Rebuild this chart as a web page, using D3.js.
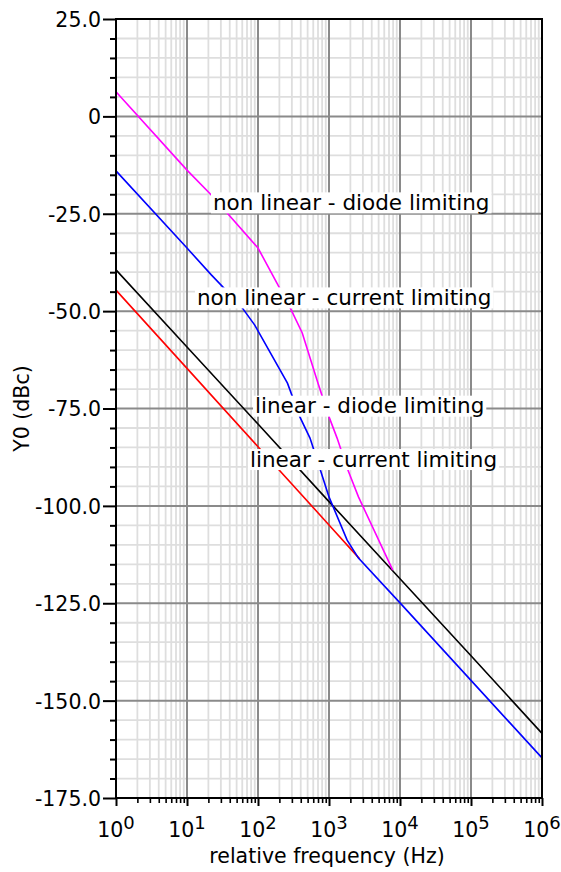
<!DOCTYPE html>
<html>
<head>
<meta charset="utf-8">
<script src="https://cdn.jsdelivr.net/npm/d3@7/dist/d3.min.js"></script>
<style>
  body { margin: 0; background: #fff; }
  text { font-family: "DejaVu Sans", sans-serif; fill: #000; }
</style>
</head>
<body>
<svg id="chart" width="561" height="872"></svg>
<script>
// y axis: major ticks and their labels
const yMajor = [25, 0, -25, -50, -75, -100, -125, -150, -175];
const yLabels = ["25.0", "0", "-25.0", "-50.0", "-75.0", "-100.0", "-125.0", "-150.0", "-175.0"];
// x axis: decade exponents
const xDecades = [0, 1, 2, 3, 4, 5, 6];

// series (frequency in Hz, level in dBc)
const nlDiodeF = [1, 10, 22, 100, 160, 280, 420, 700, 980, 1300, 1800, 2600, 7900];
const nlDiodeY = [6.3, -13.8, -20.2, -33.8, -40.7, -48.9, -55.6, -68.5, -76.7, -82.6, -90.3, -97.7, -116.5];

const nlCurrentF = [1, 10, 22, 56, 90, 260, 390, 540, 740, 1000, 1800, 2600, 10000, 1000000];
const nlCurrentY = [-14.0, -33.8, -40.7, -48.4, -53.6, -68.5, -77.2, -82.6, -90.3, -97.7, -108.8, -113.4, -124.9, -164.7];

const linDiodeF = [1, 10, 100, 1000, 10000, 100000, 1000000];
const linDiodeY = [-39.4, -59.2, -79.0, -98.9, -118.7, -138.5, -158.4];

const linCurrentF = [1, 10, 100, 1000, 2700];
const linCurrentY = [-44.6, -64.7, -84.8, -104.9, -113.6];

// annotation texts and where they sit (in data units: Hz, dBc at baseline)
const noteText = ["non linear - diode limiting", "non linear - current limiting",
                  "linear - diode limiting", "linear - current limiting"];
const noteF = [23.2, 13.8, 90.8, 77.1];
const noteY = [-24.0, -48.4, -76.2, -89.9];

const svg = d3.select("#chart");
const mLeft = 116, mRight = 542, mTop = 19, mBottom = 798;

const x = d3.scaleLog().domain([1, 1e6]).range([mLeft, mRight]);
const y = d3.scaleLinear().domain([-175, 25]).range([mBottom, mTop]);

// minor positions
const yMinor = d3.range(-175, 25, 5).filter(v => v % 25 !== 0);
const xMinor = [];
xDecades.slice(0, -1).forEach(d => {
  for (let k = 2; k <= 9; k++) xMinor.push(k * Math.pow(10, d));
});
const xMajor = xDecades.map(d => Math.pow(10, d));

// grid
const grid = svg.append("g");
grid.selectAll(".vmin").data(xMinor).join("line")
  .attr("x1", d => x(d)).attr("x2", d => x(d))
  .attr("y1", mTop).attr("y2", mBottom)
  .attr("stroke", "#dedede").attr("stroke-width", 1.8);
grid.selectAll(".hmin").data(yMinor).join("line")
  .attr("x1", mLeft).attr("x2", mRight)
  .attr("y1", d => y(d)).attr("y2", d => y(d))
  .attr("stroke", "#dedede").attr("stroke-width", 1.8);
grid.selectAll(".vmaj").data(xMajor).join("line")
  .attr("x1", d => x(d)).attr("x2", d => x(d))
  .attr("y1", mTop).attr("y2", mBottom)
  .attr("stroke", "#8a8a8a").attr("stroke-width", 2);
grid.selectAll(".hmaj").data(yMajor).join("line")
  .attr("x1", mLeft).attr("x2", mRight)
  .attr("y1", d => y(d)).attr("y2", d => y(d))
  .attr("stroke", "#8a8a8a").attr("stroke-width", 2);

// series
const line = d3.line().x(d => x(d[0])).y(d => y(d[1]));
const series = [
  { f: linDiodeF, v: linDiodeY, color: "#000000" },
  { f: linCurrentF, v: linCurrentY, color: "#ff0000" },
  { f: nlDiodeF, v: nlDiodeY, color: "#ff00ff" },
  { f: nlCurrentF, v: nlCurrentY, color: "#0000ff" }
];
svg.append("g").selectAll("path").data(series).join("path")
  .attr("d", s => line(d3.zip(s.f, s.v)))
  .attr("fill", "none")
  .attr("stroke", s => s.color)
  .attr("stroke-width", 1.6);

// annotations with white boxes
const notes = svg.append("g");
noteText.forEach((t, i) => {
  const g = notes.append("g");
  const rect = g.append("rect").attr("fill", "#fff");
  const txt = g.append("text")
    .attr("x", x(noteF[i])).attr("y", y(noteY[i]))
    .attr("font-size", 21.5)
    .text(t);
  const bb = txt.node().getBBox();
  rect.attr("x", bb.x - 2).attr("width", bb.width + 4)
    .attr("y", y(noteY[i]) - 17.5).attr("height", 21);
});

// frame
svg.append("rect")
  .attr("x", mLeft).attr("y", mTop)
  .attr("width", mRight - mLeft).attr("height", mBottom - mTop)
  .attr("fill", "none").attr("stroke", "#000").attr("stroke-width", 2);

// y axis ticks
const yAxisMajor = d3.axisLeft(y).tickValues(yMajor).tickSize(13).tickSizeOuter(0)
  .tickFormat((d, i) => yLabels[i]).tickPadding(2);
const gy = svg.append("g").attr("transform", `translate(${mLeft},0)`).call(yAxisMajor);
gy.select(".domain").remove();
gy.selectAll(".tick line").attr("stroke", "#000").attr("stroke-width", 2);
gy.selectAll(".tick text")
  .attr("font-family", "DejaVu Sans").attr("font-size", 20.5)
  .attr("dy", "0.36em").attr("fill", "#000");

const gyMin = svg.append("g").attr("transform", `translate(${mLeft},0)`)
  .call(d3.axisLeft(y).tickValues(yMinor).tickSize(6).tickSizeOuter(0).tickFormat(""));
gyMin.select(".domain").remove();
gyMin.selectAll(".tick line").attr("stroke", "#000").attr("stroke-width", 2);

// x axis ticks
const gxMin = svg.append("g").attr("transform", `translate(0,${mBottom})`)
  .call(d3.axisBottom(x).tickValues(xMinor).tickSize(5).tickSizeOuter(0).tickFormat(""));
gxMin.select(".domain").remove();
gxMin.selectAll(".tick line").attr("stroke", "#000").attr("stroke-width", 1.6);

const gx = svg.append("g").attr("transform", `translate(0,${mBottom})`)
  .call(d3.axisBottom(x).tickValues(xMajor).tickSize(8).tickSizeOuter(0).tickFormat(""));
gx.select(".domain").remove();
gx.selectAll(".tick line").attr("stroke", "#000").attr("stroke-width", 2);

// decade labels 10^n
const xl = svg.append("g").selectAll("text").data(xDecades).join("text")
  .attr("x", d => x(Math.pow(10, d)))
  .attr("y", 837)
  .attr("text-anchor", "middle")
  .attr("font-size", 20.5);
xl.append("tspan").text("10");
xl.append("tspan").attr("dy", -8).attr("font-size", 18).text(d => d);

// axis titles
svg.append("text")
  .attr("x", (mLeft + mRight) / 2 - 2).attr("y", 863)
  .attr("text-anchor", "middle").attr("font-size", 20.5)
  .text("relative frequency (Hz)");

svg.append("text")
  .attr("transform", `translate(29,${(mTop + mBottom) / 2}) rotate(-90)`)
  .attr("text-anchor", "middle").attr("font-size", 20.5)
  .text("Y0 (dBc)");
</script>
</body>
</html>
